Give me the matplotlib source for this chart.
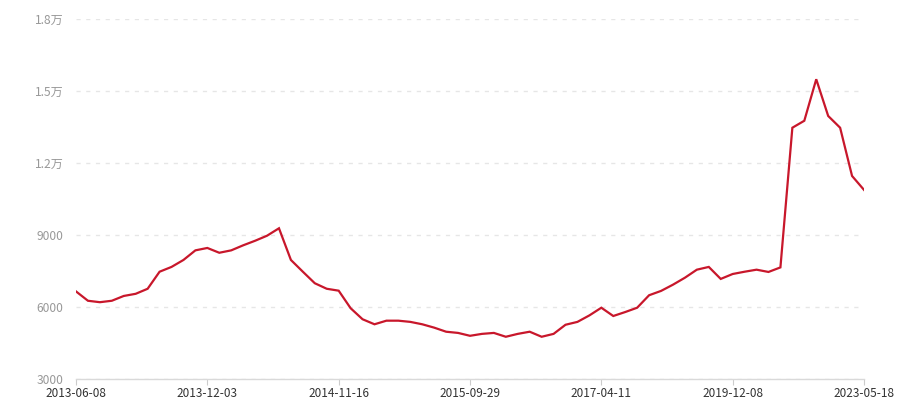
import matplotlib
matplotlib.use("Agg")
import matplotlib.pyplot as plt
from matplotlib.ticker import FuncFormatter

plt.rcParams['font.family'] = ['Noto Sans CJK SC', 'DejaVu Sans']

# 价格序列（按顺序，类目轴）
prices = [6650, 6260, 6200, 6260, 6460, 6550, 6760, 7470, 7670, 7960,
          8360, 8460, 8260, 8360, 8570, 8760, 8970, 9280, 7960, 7470,
          6990, 6760, 6680, 5950, 5490, 5280, 5430, 5430, 5380, 5280,
          5140, 4970, 4920, 4800, 4880, 4920, 4760, 4880, 4970, 4760,
          4880, 5260, 5380, 5650, 5970, 5625, 5790, 5970, 6490, 6670,
          6930, 7220, 7555, 7670, 7170, 7375, 7470, 7555, 7460, 7650,
          13470, 13760, 15490, 13960, 13470, 11460, 10880]

tick_labels = ["2013-06-08", "2013-12-03", "2014-11-16", "2015-09-29",
               "2017-04-11", "2019-12-08", "2023-05-18"]
tick_step = 11

yticks = [3000, 6000, 9000, 12000, 15000, 18000]


def fmt_y(v, pos):
    if v >= 10000:
        return f"{v / 10000:.1f}万"
    return f"{int(v)}"


fig = plt.figure(figsize=(9, 4), dpi=100)
ax = fig.add_axes([76 / 900, 21 / 400, 788 / 900, 360 / 400])

x = list(range(len(prices)))
ax.plot(x, prices, color='#c8172b', lw=1.6, solid_joinstyle='miter')

ax.set_xlim(0, len(prices) - 1)
ax.set_ylim(3000, 18000)
ax.set_yticks(yticks)
ax.yaxis.set_major_formatter(FuncFormatter(fmt_y))
ax.set_xticks(list(range(0, len(prices), tick_step)))
ax.set_xticklabels(tick_labels)

ax.grid(axis='y', color='#e6e6e6', ls=(0, (3, 4)), lw=1)
ax.set_axisbelow(True)
for s in ['top', 'right', 'left']:
    ax.spines[s].set_visible(False)
ax.spines['bottom'].set_color('#d9d9d9')
ax.spines['bottom'].set_linewidth(1)

ax.tick_params(axis='y', length=0, pad=9, labelsize=8.7, labelcolor='#999999')
ax.tick_params(axis='x', length=4, color='#cccccc', pad=2, labelsize=8.5, labelcolor='#333333')

fig.savefig('out.png', dpi=100)
